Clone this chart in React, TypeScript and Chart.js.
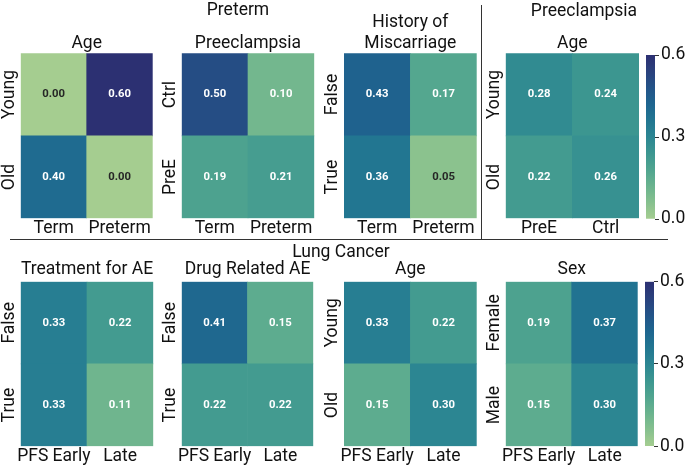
import React, { useEffect, useRef } from "react";
import { Chart, registerables } from "chart.js";
Chart.register(...registerables);

// ---------------- DATA ----------------
const pretermAgeX = ["Term", "Preterm"];
const pretermAgeY = ["Young", "Old"];
const pretermAgeV = [
  [0.0, 0.6],
  [0.4, 0.0],
];

const pretermPreeX = ["Term", "Preterm"];
const pretermPreeY = ["Ctrl", "PreE"];
const pretermPreeV = [
  [0.5, 0.1],
  [0.19, 0.21],
];

const pretermMiscX = ["Term", "Preterm"];
const pretermMiscY = ["False", "True"];
const pretermMiscV = [
  [0.43, 0.17],
  [0.36, 0.05],
];

const preeAgeX = ["PreE", "Ctrl"];
const preeAgeY = ["Young", "Old"];
const preeAgeV = [
  [0.28, 0.24],
  [0.22, 0.26],
];

const lungX = ["PFS Early", "Late"];
const lungTreatY = ["False", "True"];
const lungTreatV = [
  [0.33, 0.22],
  [0.33, 0.11],
];
const lungDrugY = ["False", "True"];
const lungDrugV = [
  [0.41, 0.15],
  [0.22, 0.22],
];
const lungAgeY = ["Young", "Old"];
const lungAgeV = [
  [0.33, 0.22],
  [0.15, 0.3],
];
const lungSexY = ["Female", "Male"];
const lungSexV = [
  [0.19, 0.37],
  [0.15, 0.3],
];

const colorRange = [0, 0.6];
const colorTicks = [0, 0.3, 0.6];

// ---------------- STYLE ----------------
const W = 685;
const H = 468;
const FONT = "Roboto";
const FS = 17.5;
const AFS = 11.3;
const TEXT = "#111111";
const YW = 20;
const XH = 26;
const Y_LABEL_OFF = 11;

// crest-like colormap
const CMAP: [number, number, number][] = [
  [165, 205, 144],
  [134, 192, 142],
  [106, 179, 142],
  [80, 164, 143],
  [60, 150, 144],
  [44, 134, 146],
  [34, 118, 145],
  [30, 101, 143],
  [35, 83, 136],
  [42, 65, 125],
  [44, 48, 114],
];

function cmapRGB(v: number): [number, number, number] {
  let t = (v - colorRange[0]) / (colorRange[1] - colorRange[0]);
  t = Math.max(0, Math.min(1, t));
  const p = t * (CMAP.length - 1);
  const i = Math.min(CMAP.length - 2, Math.floor(p));
  const f = p - i;
  const a = CMAP[i];
  const b = CMAP[i + 1];
  return [0, 1, 2].map((k) => Math.round(a[k] + (b[k] - a[k]) * f)) as [number, number, number];
}
function cmap(v: number) {
  const c = cmapRGB(v);
  return `rgb(${c[0]},${c[1]},${c[2]})`;
}
function textColorFor(v: number) {
  const c = cmapRGB(v).map((x) => {
    const s = x / 255;
    return s <= 0.03928 ? s / 12.92 : Math.pow((s + 0.055) / 1.055, 2.4);
  });
  const lum = 0.2126 * c[0] + 0.7152 * c[1] + 0.0722 * c[2];
  return lum > 0.408 ? "#262626" : "#ffffff";
}

function measureWidest(labels: string[], font: string) {
  const c = document.createElement("canvas").getContext("2d")!;
  c.font = font;
  return Math.max(...labels.map((l) => c.measureText(l).width));
}

const annotPlugin = {
  id: "annot",
  afterDatasetsDraw(chart: any) {
    const ctx = chart.ctx;
    ctx.save();
    ctx.font = `bold ${AFS}px ${FONT}`;
    ctx.textAlign = "center";
    ctx.textBaseline = "middle";
    chart.data.datasets.forEach((ds: any, di: number) => {
      const meta = chart.getDatasetMeta(di);
      meta.data.forEach((el: any, j: number) => {
        const v = ds.values[j];
        const p = el.getProps(["x", "y", "base"], true);
        ctx.fillStyle = textColorFor(v);
        ctx.fillText(v.toFixed(2), p.x, (p.y + p.base) / 2);
      });
    });
    ctx.restore();
  },
};

type Box = { x: number; y: number; w: number; h: number };

function Heatmap(props: {
  title: string | string[];
  xLabels: string[];
  yLabels: string[];
  values: number[][];
  box: Box;
  titleGap: number;
}) {
  const ref = useRef<HTMLCanvasElement>(null);
  useEffect(() => {
    const { title, xLabels, yLabels, values, box, titleGap } = props;
    const rowsBU = [...yLabels].reverse();
    const valsBU = [...values].reverse();
    const datasets = valsBU.map((row, i) => ({
      label: rowsBU[i],
      data: row.map(() => 1),
      values: row,
      backgroundColor: row.map(cmap),
      borderWidth: 0,
      barPercentage: 1,
      categoryPercentage: 1,
    }));
    const lines = Array.isArray(title) ? title.length : 1;
    const titleH = lines * FS * 1.15 + titleGap;
    const widest = measureWidest(yLabels, `${FS}px ${FONT}`);
    const font = { family: FONT, size: FS };
    const chart = new Chart(ref.current!, {
      type: "bar",
      data: { labels: xLabels, datasets: datasets as any },
      options: {
        responsive: false,
        animation: false,
        events: [],
        layout: {
          padding: {
            left: box.x - YW,
            top: box.y - titleH,
            right: W - box.x - box.w,
            bottom: H - box.y - box.h - XH,
          },
        },
        plugins: {
          legend: { display: false },
          tooltip: { enabled: false },
          title: {
            display: true,
            text: title,
            fullSize: false,
            color: TEXT,
            font: { family: FONT, size: FS, weight: "normal", lineHeight: 1.15 },
            padding: { top: 0, bottom: titleGap },
          },
        },
        scales: {
          x: {
            stacked: true,
            grid: { display: false, drawTicks: false },
            border: { display: false },
            ticks: { font, color: TEXT, padding: 0, maxRotation: 0, autoSkip: false },
            afterFit: (s: any) => {
              s.height = XH;
            },
          },
          y: {
            stacked: true,
            min: 0,
            max: rowsBU.length,
            grid: { display: false, drawTicks: false },
            border: { display: false },
            afterBuildTicks: (s: any) => {
              s.ticks = rowsBU.map((_, i) => ({ value: i + 0.5 }));
            },
            ticks: {
              autoSkip: false,
              callback: (v: any) => rowsBU[Math.floor(Number(v))],
              minRotation: 90,
              maxRotation: 90,
              crossAlign: "center",
              padding: Y_LABEL_OFF - widest / 2,
              font,
              color: TEXT,
            },
            afterFit: (s: any) => {
              s.width = YW;
            },
          },
        },
      } as any,
      plugins: [annotPlugin],
    });
    return () => chart.destroy();
  }, []);
  return (
    <canvas
      ref={ref}
      width={W}
      height={H}
      style={{ position: "absolute", left: 0, top: 0, width: W, height: H }}
    />
  );
}

function Colorbar(props: { box: Box }) {
  const ref = useRef<HTMLCanvasElement>(null);
  useEffect(() => {
    const { box } = props;
    const CBW = W - box.x - box.w;
    const chart = new Chart(ref.current!, {
      type: "bar",
      data: {
        labels: [""],
        datasets: [
          {
            data: [[colorRange[0], colorRange[1]]],
            backgroundColor: (c: any) => {
              const ch = c.chart;
              const area = ch.chartArea;
              if (!area || !isFinite(area.top) || !isFinite(area.bottom) || area.bottom <= area.top) {
                return cmap((colorRange[0] + colorRange[1]) / 2);
              }
              const ys = ch.scales && ch.scales.y;
              let y0 = area.bottom;
              let y1 = area.top;
              if (ys) {
                const a = ys.getPixelForValue(colorRange[0]);
                const b = ys.getPixelForValue(colorRange[1]);
                if (isFinite(a) && isFinite(b) && a !== b) {
                  y0 = a;
                  y1 = b;
                }
              }
              const g = ch.ctx.createLinearGradient(0, y0, 0, y1);
              const N = 40;
              for (let i = 0; i <= N; i++) {
                const v = colorRange[0] + ((colorRange[1] - colorRange[0]) * i) / N;
                g.addColorStop(i / N, cmap(v));
              }
              return g;
            },
            borderWidth: 0,
            barPercentage: 1,
            categoryPercentage: 1,
          },
        ] as any,
      },
      options: {
        responsive: false,
        animation: false,
        events: [],
        layout: {
          padding: { left: box.x, top: box.y, right: 0, bottom: H - box.y - box.h },
        },
        plugins: { legend: { display: false }, tooltip: { enabled: false } },
        scales: {
          x: { display: false },
          y: {
            position: "right",
            min: colorRange[0],
            max: colorRange[1],
            afterBuildTicks: (s: any) => {
              s.ticks = colorTicks.map((v) => ({ value: v }));
            },
            ticks: {
              callback: (v: any) => Number(v).toFixed(1),
              font: { family: FONT, size: FS },
              color: TEXT,
              padding: 2,
              autoSkip: false,
            },
            grid: { drawOnChartArea: false, drawTicks: true, tickLength: 4, color: "#333333" },
            border: { display: false },
            afterFit: (s: any) => {
              s.width = CBW;
            },
          },
        },
      } as any,
    });
    return () => chart.destroy();
  }, []);
  return (
    <canvas
      ref={ref}
      width={W}
      height={H}
      style={{ position: "absolute", left: 0, top: 0, width: W, height: H }}
    />
  );
}

function Label(props: { text: string; cx: number; top: number }) {
  return (
    <div
      style={{
        position: "absolute",
        left: props.cx,
        top: props.top,
        transform: "translateX(-50%)",
        font: `${FS}px ${FONT}`,
        lineHeight: 1,
        whiteSpace: "nowrap",
        color: TEXT,
      }}
    >
      {props.text}
    </div>
  );
}

const TOP_Y = 53.3;
const TOP_H = 165;
const BOT_Y = 281.7;
const BOT_H = 164.5;

export default function App() {
  return (
    <div
      style={{
        position: "fixed",
        left: 0,
        top: 0,
        width: W,
        height: H,
        background: "#ffffff",
        overflow: "hidden",
      }}
    >
      <Heatmap title="Age" xLabels={pretermAgeX} yLabels={pretermAgeY} values={pretermAgeV}
        box={{ x: 20.7, y: TOP_Y, w: 132, h: TOP_H }} titleGap={0} />
      <Heatmap title="Preeclampsia" xLabels={pretermPreeX} yLabels={pretermPreeY} values={pretermPreeV}
        box={{ x: 181.7, y: TOP_Y, w: 132.6, h: TOP_H }} titleGap={0} />
      <Heatmap title={["History of", "Miscarriage"]} xLabels={pretermMiscX} yLabels={pretermMiscY} values={pretermMiscV}
        box={{ x: 344, y: TOP_Y, w: 132.7, h: TOP_H }} titleGap={0} />
      <Heatmap title="Age" xLabels={preeAgeX} yLabels={preeAgeY} values={preeAgeV}
        box={{ x: 505.7, y: TOP_Y, w: 133.3, h: TOP_H }} titleGap={0} />
      <Colorbar box={{ x: 646, y: 55, w: 9, h: 164 }} />

      <Heatmap title="Treatment for AE" xLabels={lungX} yLabels={lungTreatY} values={lungTreatV}
        box={{ x: 20.7, y: BOT_Y, w: 132.6, h: BOT_H }} titleGap={2} />
      <Heatmap title="Drug Related AE" xLabels={lungX} yLabels={lungDrugY} values={lungDrugV}
        box={{ x: 181.7, y: BOT_Y, w: 131.6, h: BOT_H }} titleGap={2} />
      <Heatmap title="Age" xLabels={lungX} yLabels={lungAgeY} values={lungAgeV}
        box={{ x: 344, y: BOT_Y, w: 132.7, h: BOT_H }} titleGap={2} />
      <Heatmap title="Sex" xLabels={lungX} yLabels={lungSexY} values={lungSexV}
        box={{ x: 505.7, y: BOT_Y, w: 132, h: BOT_H }} titleGap={2} />
      <Colorbar box={{ x: 645, y: BOT_Y, w: 9, h: BOT_H }} />

      <Label text="Preterm" cx={238} top={1} />
      <Label text="Preeclampsia" cx={584} top={2} />
      <Label text="Lung Cancer" cx={341} top={242.7} />

      <div style={{ position: "absolute", left: 10, top: 238.8, width: 658, height: 1.4, background: "#333333" }} />
      <div style={{ position: "absolute", left: 481, top: 5, width: 1.4, height: 234, background: "#333333" }} />
    </div>
  );
}
